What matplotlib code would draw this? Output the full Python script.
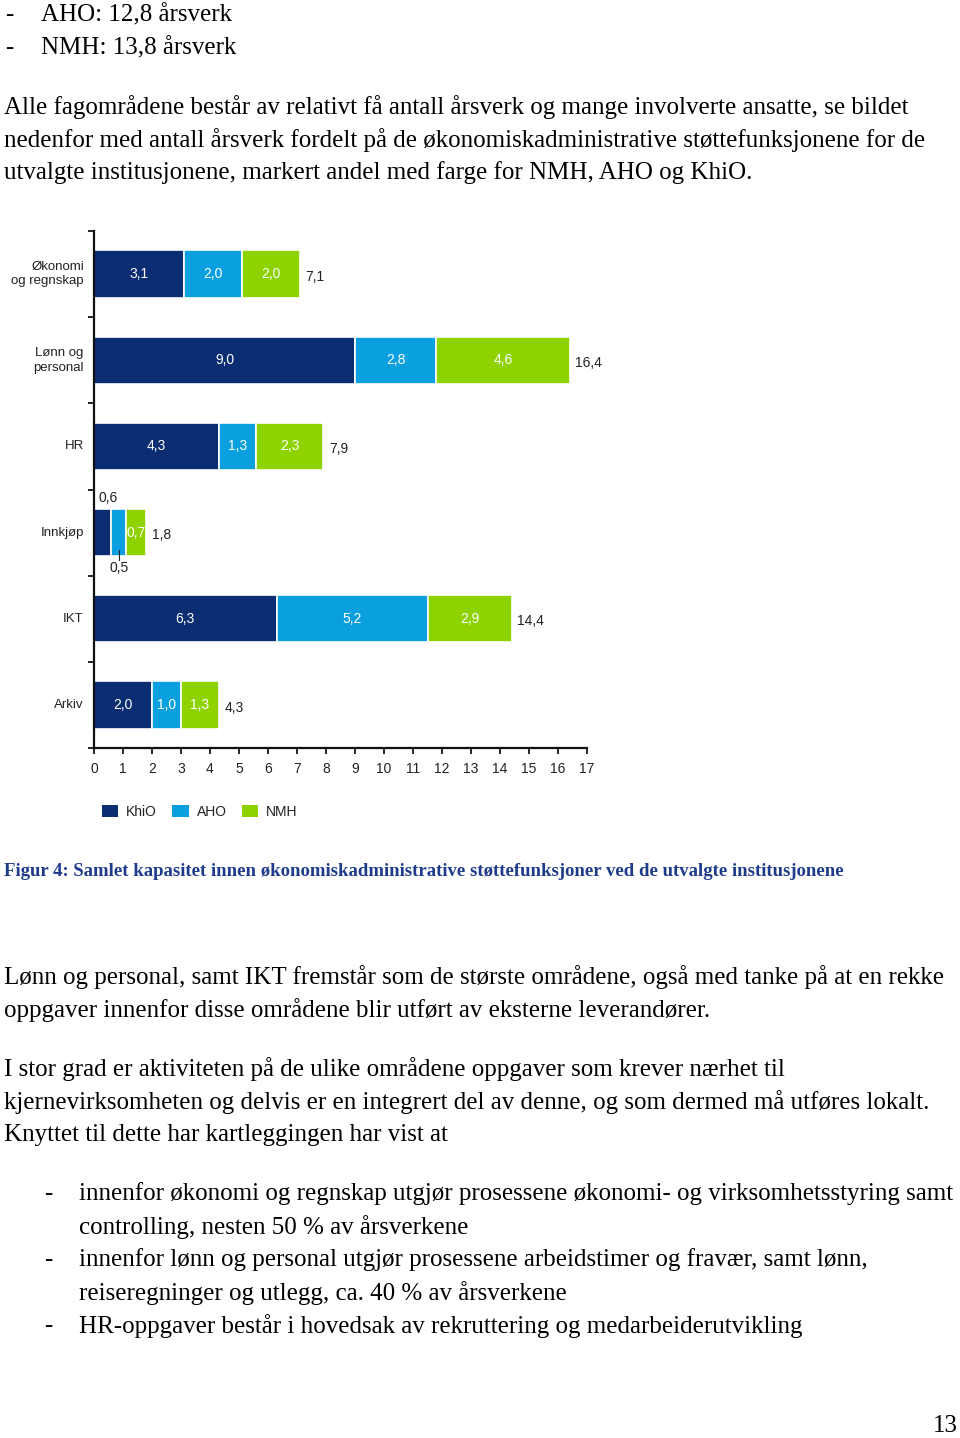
import numpy as np
import matplotlib
matplotlib.use('Agg')
import matplotlib.pyplot as plt
from matplotlib.patches import Patch

categories = ['Økonomi\nog regnskap', 'Lønn og\npersonal', 'HR', 'Innkjøp', 'IKT', 'Arkiv']
khio = [3.1, 9.0, 4.3, 0.6, 6.3, 2.0]
aho = [2.0, 2.8, 1.3, 0.5, 5.2, 1.0]
nmh = [2.0, 4.6, 2.3, 0.7, 2.9, 1.3]
series_names = ['KhiO', 'AHO', 'NMH']
colors = ['#0b2d72', '#0a9fdf', '#8ed200']

W, H = 960, 1438
fig = plt.figure(figsize=(W / 100, H / 100), dpi=100)
fig.patch.set_facecolor('white')


def fy(y):
    return 1 - y / H


def fx(x):
    return x / W


serif = 'Liberation Serif'
sans = 'Liberation Sans'
body = dict(fontsize=18, family=serif, va='center', ha='left', color='black')

# text above the chart
fig.text(fx(5), fy(15), '-', **body)
fig.text(fx(41), fy(15), 'AHO: 12,8 årsverk', **body)
fig.text(fx(5), fy(48), '-', **body)
fig.text(fx(41), fy(48), 'NMH: 13,8 årsverk', **body)
para1 = ['Alle fagområdene består av relativt få antall årsverk og mange involverte ansatte, se bildet',
         'nedenfor med antall årsverk fordelt på de økonomiskadministrative støttefunksjonene for de',
         'utvalgte institusjonene, markert andel med farge for NMH, AHO og KhiO.']
for i, line in enumerate(para1):
    fig.text(fx(4), fy(107 + 33 * i), line, **body)

# chart
ax = fig.add_axes([fx(94), fy(748), fx(587) - fx(94), (748 - 231) / H])
y = np.arange(len(categories))
left = np.zeros(len(categories))
for vals, name, col in zip([khio, aho, nmh], series_names, colors):
    ax.barh(y, vals, left=left, height=0.55, color=col, edgecolor='white',
            linewidth=1.2, label=name)
    for i, v in enumerate(vals):
        if i == 3 and name != 'NMH':
            continue
        ax.text(left[i] + v / 2, y[i], f'{v:.1f}'.replace('.', ','), ha='center',
                va='center', color='white', fontsize=10, family=sans)
    left = left + np.array(vals)

totals = left
for i, t in enumerate(totals):
    ax.text(t + 0.2, y[i] + 0.03, f'{t:.1f}'.replace('.', ','), ha='left',
            va='center', color='#222222', fontsize=10, family=sans)

# small values for Innkjøp
ax.text(0.5, 3 - 0.4, f'{khio[3]:.1f}'.replace('.', ','), ha='center',
        va='center', color='#222222', fontsize=10, family=sans)
xa = khio[3] + aho[3] / 2
ax.plot([xa, xa], [3 + 0.2, 3 + 0.32], color='#222222', lw=0.8)
ax.text(xa, 3 + 0.41, f'{aho[3]:.1f}'.replace('.', ','), ha='center',
        va='center', color='#222222', fontsize=10, family=sans)

ax.set_ylim(len(categories) - 0.5, -0.5)
ax.set_xlim(0, 17)
ax.set_xticks(range(0, 18))
ax.set_yticks(np.arange(-0.5, len(categories), 1.0))
ax.set_yticklabels([])
ax.tick_params(axis='y', length=4, width=1.2, direction='out')
ax.tick_params(axis='x', length=4, width=1.2, direction='out', labelsize=10,
               labelcolor='#222222', pad=6)
for lab in ax.get_xticklabels():
    lab.set_family(sans)
for i, c in enumerate(categories):
    ax.text(-0.35, y[i], c, ha='right', va='center', fontsize=9.5, family=sans,
            color='#222222', linespacing=1.3)
for s in ['top', 'right']:
    ax.spines[s].set_visible(False)
for s in ['left', 'bottom']:
    ax.spines[s].set_linewidth(1.6)
    ax.spines[s].set_color('#111111')

handles = [Patch(facecolor=c, edgecolor='none') for c in colors]
leg = fig.legend(handles, series_names, loc='center left',
                 bbox_to_anchor=(fx(92), fy(812)), ncol=3, frameon=False,
                 handlelength=1.2, handleheight=0.9, handletextpad=0.55,
                 columnspacing=1.1, borderpad=0.2,
                 prop={'family': sans, 'size': 10})
for t in leg.get_texts():
    t.set_color('#222222')

fig.text(fx(4), fy(871), 'Figur 4: Samlet kapasitet innen økonomiskadministrative støttefunksjoner ved de utvalgte institusjonene',
         fontsize=13.5, family=serif, weight='bold', color='#1f3c8c', va='center', ha='left')

para2 = ['Lønn og personal, samt IKT fremstår som de største områdene, også med tanke på at en rekke',
         'oppgaver innenfor disse områdene blir utført av eksterne leverandører.']
for i, line in enumerate(para2):
    fig.text(fx(4), fy(977 + 33 * i), line, **body)

para3 = ['I stor grad er aktiviteten på de ulike områdene oppgaver som krever nærhet til',
         'kjernevirksomheten og delvis er en integrert del av denne, og som dermed må utføres lokalt.',
         'Knyttet til dette har kartleggingen har vist at']
for i, line in enumerate(para3):
    fig.text(fx(4), fy(1069 + 33 * i), line, **body)

bullets = [('-', 'innenfor økonomi og regnskap utgjør prosessene økonomi- og virksomhetsstyring samt'),
           ('', 'controlling, nesten 50 % av årsverkene'),
           ('-', 'innenfor lønn og personal utgjør prosessene arbeidstimer og fravær, samt lønn,'),
           ('', 'reiseregninger og utlegg, ca. 40 % av årsverkene'),
           ('-', 'HR-oppgaver består i hovedsak av rekruttering og medarbeiderutvikling')]
for i, (d, line) in enumerate(bullets):
    if d:
        fig.text(fx(44), fy(1194 + 33 * i), d, **body)
    fig.text(fx(79), fy(1194 + 33 * i), line, **body)

fig.text(fx(958), fy(1426), '13', fontsize=18, family=serif, va='center', ha='right')

fig.savefig('out.png', dpi=100)
